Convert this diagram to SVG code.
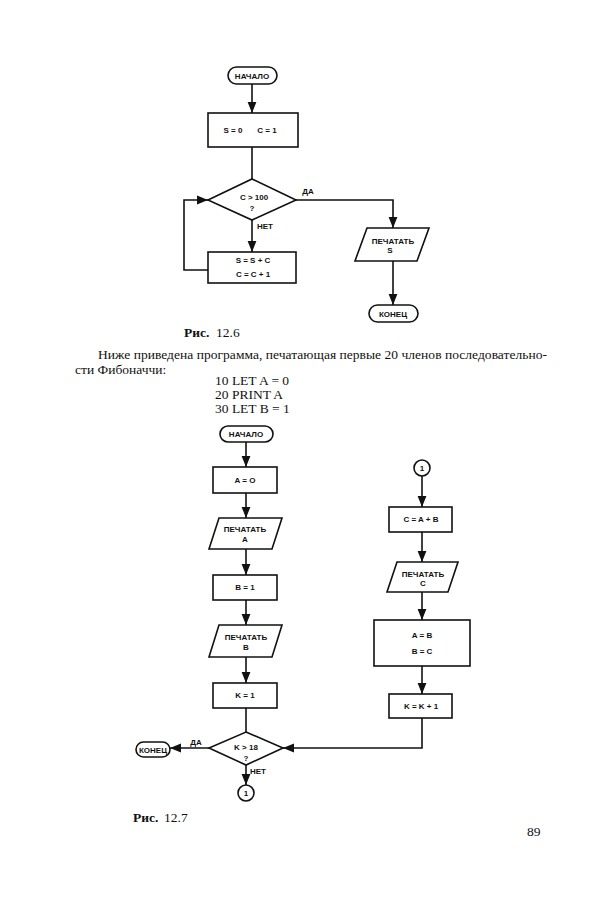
<svg xmlns="http://www.w3.org/2000/svg" width="600" height="900" viewBox="0 0 600 900">
<defs>
<marker id="ar" viewBox="0 0 10 10" refX="10" refY="5" markerWidth="7" markerHeight="7" orient="auto"><path d="M0,1 L10,5 L0,9 z" fill="#111"/></marker>
<style>
.s{fill:none;stroke:#111;stroke-width:1.6}
.c{fill:none;stroke:#111;stroke-width:1.6;marker-end:url(#ar)}
.t{font-family:"Liberation Sans",Arial,sans-serif;font-weight:bold;font-size:8px;fill:#111;text-anchor:middle}
.b{font-family:"Liberation Serif","Times New Roman",serif;font-size:13.5px;fill:#111}
</style>
</defs>
<rect width="600" height="900" fill="#fff"/>
<!-- Fig 12.6 -->
<g id="n1"><rect class="s" x="228" y="67" width="49" height="17" rx="8.5"/><text class="t" x="252" y="78.5">НАЧАЛО</text></g>
<g id="n2"><rect class="s" x="208" y="113" width="90" height="34"/><text class="t" x="233" y="133">S = 0</text><text class="t" x="267" y="133">C = 1</text></g>
<g id="n3"><polygon class="s" points="252,179 296,200 252,220 208,200"/><text class="t" x="254" y="200">C &gt; 100</text><text class="t" x="252" y="211">?</text></g>
<g id="n4"><rect class="s" x="208" y="252" width="88" height="31"/><text class="t" x="253" y="263">S = S + C</text><text class="t" x="253" y="277">C = C + 1</text></g>
<g id="n5"><polygon class="s" points="367,228 429,228 417,261 355,261"/><text class="t" x="393" y="244">ПЕЧАТАТЬ</text><text class="t" x="390" y="253">S</text></g>
<g id="n6"><rect class="s" x="369" y="305" width="49" height="17" rx="8.5"/><text class="t" x="393" y="316.5">КОНЕЦ</text></g>
<g id="edges1">
<line class="c" x1="252" y1="84" x2="252" y2="113"/>
<line class="s" x1="252" y1="147" x2="252" y2="179"/>
<line class="c" x1="252" y1="220" x2="252" y2="252"/>
<polyline class="c" points="208,270 184,270 184,200 208,200"/>
<polyline class="c" points="296,200 393,200 393,228"/>
<line class="c" x1="393" y1="261" x2="393" y2="305"/>
<text class="t" x="308" y="194">ДА</text>
<text class="t" x="265" y="229">НЕТ</text>
</g>
<text class="b" x="184" y="337" font-weight="bold">Рис.</text><text class="b" x="216" y="337">12.6</text>
<text class="b" x="98" y="359" textLength="449" lengthAdjust="spacing">Ниже приведена программа, печатающая первые 20 членов последовательно-</text>
<text class="b" x="75" y="374">сти Фибоначчи:</text>
<text class="b" x="215" y="385" font-size="14.5">10 LET A = 0</text>
<text class="b" x="215" y="399" font-size="14.5">20 PRINT A</text>
<text class="b" x="215" y="413" font-size="14.5">30 LET B = 1</text>
<!-- Fig 12.7 -->
<g id="m1"><rect class="s" x="220" y="426" width="53" height="16" rx="8"/><text class="t" x="246" y="437">НАЧАЛО</text></g>
<g id="m2"><rect class="s" x="213" y="467" width="64" height="26"/><text class="t" x="245" y="483">A = O</text></g>
<g id="m3"><polygon class="s" points="219,518 282,518 272,549 209,549"/><text class="t" x="245" y="532">ПЕЧАТАТЬ</text><text class="t" x="245" y="542">A</text></g>
<g id="m4"><rect class="s" x="213" y="575" width="64" height="25"/><text class="t" x="245" y="590">B = 1</text></g>
<g id="m5"><polygon class="s" points="219,625 282,625 272,657 209,657"/><text class="t" x="246" y="640">ПЕЧАТАТЬ</text><text class="t" x="246" y="650">B</text></g>
<g id="m6"><rect class="s" x="213" y="683" width="64" height="25"/><text class="t" x="245" y="698">K = 1</text></g>
<g id="m7"><polygon class="s" points="246,732 283,748 246,765 209,748"/><text class="t" x="246" y="750">K &gt; 18</text><text class="t" x="246" y="761">?</text></g>
<g id="m8"><rect class="s" x="136" y="742" width="34" height="15" rx="7.5"/><text class="t" x="153" y="752.5">КОНЕЦ</text></g>
<g id="m9"><circle class="s" cx="246" cy="793" r="8"/><text class="t" x="246" y="796">1</text></g>
<g id="r1"><circle class="s" cx="422" cy="468" r="8"/><text class="t" x="422" y="471">1</text></g>
<g id="r2"><rect class="s" x="389" y="507" width="63" height="25"/><text class="t" x="421" y="522">C = A + B</text></g>
<g id="r3"><polygon class="s" points="397,562 458,562 448,592 387,592"/><text class="t" x="423" y="577">ПЕЧАТАТЬ</text><text class="t" x="423" y="586">C</text></g>
<g id="r4"><rect class="s" x="374" y="620" width="96" height="46"/><text class="t" x="422" y="638">A = B</text><text class="t" x="422" y="654">B = C</text></g>
<g id="r5"><rect class="s" x="389" y="694" width="63" height="24"/><text class="t" x="421" y="709">K = K + 1</text></g>
<g id="edges2">
<line class="c" x1="246" y1="442" x2="246" y2="467"/>
<line class="c" x1="246" y1="493" x2="246" y2="518"/>
<line class="c" x1="246" y1="549" x2="246" y2="575"/>
<line class="c" x1="246" y1="600" x2="246" y2="625"/>
<line class="c" x1="246" y1="657" x2="246" y2="683"/>
<line class="s" x1="246" y1="708" x2="246" y2="732"/>
<line class="c" x1="209" y1="748" x2="170" y2="748"/>
<line class="c" x1="246" y1="765" x2="246" y2="785"/>
<line class="c" x1="422" y1="476" x2="422" y2="507"/>
<line class="c" x1="422" y1="532" x2="422" y2="562"/>
<line class="c" x1="422" y1="592" x2="422" y2="620"/>
<line class="c" x1="422" y1="666" x2="422" y2="694"/>
<polyline class="c" points="422,718 422,748 283,748"/>
<text class="t" x="196" y="745">ДА</text>
<text class="t" x="258" y="774">НЕТ</text>
</g>
<text class="b" x="133" y="822" font-weight="bold">Рис.</text><text class="b" x="164" y="822">12.7</text>
<text class="b" x="527" y="836">89</text>
</svg>
